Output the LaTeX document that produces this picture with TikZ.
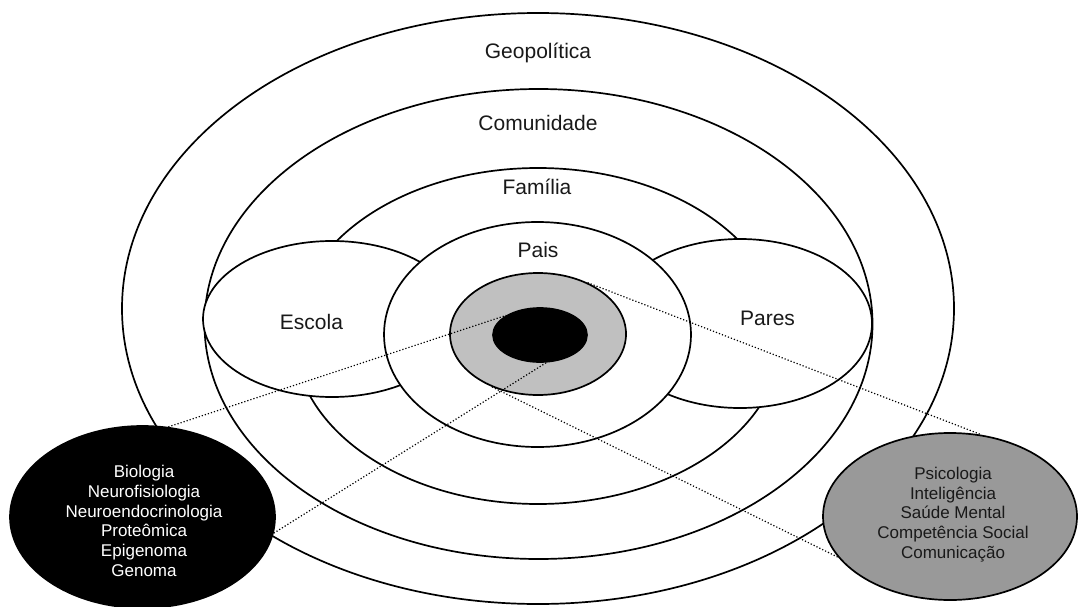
\documentclass[tikz,border=0pt]{standalone}
\usepackage{fontspec}
\setmainfont{Liberation Sans}
\usetikzlibrary{shapes.geometric}
\definecolor{midgray}{RGB}{192,192,192}
\definecolor{psygray}{RGB}{153,153,153}
\definecolor{txt}{RGB}{25,25,25}
\begin{document}
\begin{tikzpicture}[x=1pt,y=-1pt,
  ring/.style={ellipse, draw=black, line width=1.7pt, fill=white, inner sep=0pt},
  lbl/.style={font=\fontsize{21}{25}\selectfont, text=txt, inner sep=0pt, anchor=base},
  info/.style={font=\fontsize{17}{19.7}\selectfont, align=center, inner sep=0pt},
  link/.style={dotted, line width=1.2pt}]
\useasboundingbox (0,0) rectangle (1078,607);
\node[ring, minimum width=832pt, minimum height=591pt] (geo) at (538,308.5) {};
\node[ring, minimum width=668pt, minimum height=470pt] (com) at (538.5,324) {};
\node[ring, minimum width=488pt, minimum height=336pt] (fam) at (538,336) {};
\node[ring, minimum width=258pt, minimum height=156pt] (esc) at (332,319) {};
\node[ring, minimum width=264pt, minimum height=169pt] (par) at (740,323.5) {};
\node[ring, minimum width=307pt, minimum height=225pt] (pais) at (537.5,334.5) {};
\node[ring, fill=midgray, minimum width=176pt, minimum height=122pt] (mid) at (538,334) {};
\node[ring, fill=black, minimum width=94pt, minimum height=54pt] (core) at (540,335) {};
\node[lbl] (tgeo) at (538,59) {Geopolítica};
\node[lbl] (tcom) at (538,130.5) {Comunidade};
\node[lbl] (tfam) at (537,194) {Família};
\node[lbl] (tpais) at (538,257) {Pais};
\node[lbl] (tesc) at (311.5,329) {Escola};
\node[lbl] (tpar) at (767.5,325.7) {Pares};
\node[ring, fill=black, minimum width=265pt, minimum height=182pt] (bio) at (142.5,517) {};
\node[ring, fill=psygray, minimum width=254pt, minimum height=167pt] (psy) at (950,516.5) {};
\draw[link] (bio.74) -- (core.150);
\draw[link] (bio.-7) -- (core.-77.5);
\draw[link] (mid.46) -- (psy.69);
\draw[link] (mid.-131.4) -- (psy.200);
\node[info, text=white] (tbio) at (144,521) {Biologia\\Neurofisiologia\\Neuroendocrinologia\\Proteômica\\Epigenoma\\Genoma};
\node[info, text=txt] (tpsy) at (953,514.6) {Psicologia\\Inteligência\\Saúde Mental\\Competência Social\\Comunicação};
\end{tikzpicture}
\end{document}
